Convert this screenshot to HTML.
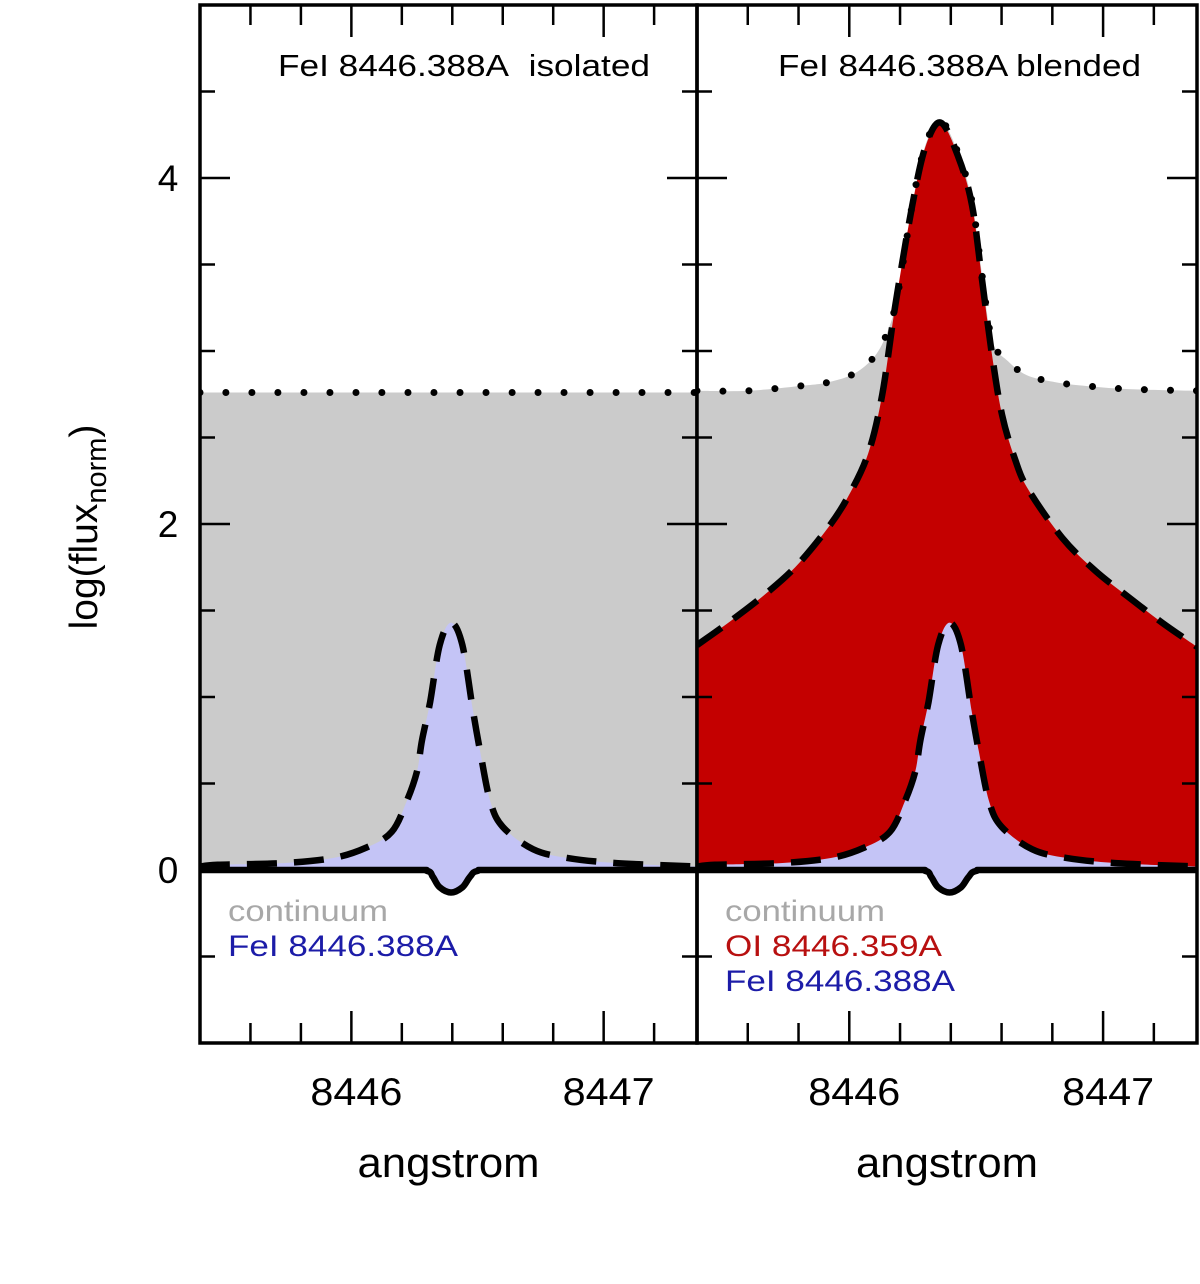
<!DOCTYPE html>
<html><head><meta charset="utf-8"><style>
html,body{margin:0;padding:0;background:#fff;}
svg text{font-family:"Liberation Sans",Arial,sans-serif;}
</style></head><body>
<svg id="chart" width="1200" height="1279" viewBox="0 0 1200 1279" xmlns="http://www.w3.org/2000/svg">
<g id="plots"></g>
<text transform="translate(97,527) rotate(-90)" text-anchor="middle" font-size="39">log(flux<tspan font-size="29" dy="9">norm</tspan><tspan dy="-9">)</tspan></text>
</svg>
<script>
// ---- data ----
const yTicksMajor = [0, 2, 4];
const yTickLabels = ["0", "2", "4"];
const yTicksMinor = [-0.5, 0.5, 1, 1.5, 2.5, 3, 3.5, 4.5];
const xTicksMajor = [8446, 8447];
const xTickLabels = ["8446", "8447"];
const xTicksMinor = [8445.6, 8445.8, 8446.2, 8446.4, 8446.6, 8446.8, 8447.2];
const continuumLevel = 2.76;
// FeI emission profile (log flux)
const feWave = [8445.40,8445.47,8445.73,8445.93,8446.06,8446.16,8446.22,8446.26,8446.28,8446.312,8446.35,8446.395,8446.44,8446.482,8446.51,8446.55,8446.60,8446.72,8446.855,8447.05,8447.37];
const feFlux = [0.02,0.03,0.04,0.07,0.13,0.22,0.40,0.57,0.75,0.97,1.30,1.43,1.30,0.92,0.69,0.40,0.25,0.12,0.07,0.04,0.02];
// absorption (solid line)
const absWave = [8445.40,8446.20,8446.30,8446.323,8446.35,8446.395,8446.44,8446.47,8446.50,8446.60,8447.37];
const absFlux = [0.0,0.0,-0.005,-0.04,-0.10,-0.13,-0.10,-0.04,-0.005,0.0,0.0];
// OI emission profile
const oiWave = [8445.40,8445.524,8445.657,8445.787,8445.917,8445.996,8446.075,8446.13,8446.181,8446.248,8446.30,8446.36,8446.43,8446.484,8446.524,8446.563,8446.602,8446.654,8446.705,8446.839,8446.969,8447.098,8447.232,8447.37];
const oiFlux = [1.30,1.43,1.58,1.75,1.98,2.16,2.41,2.75,3.26,3.84,4.18,4.32,4.12,3.84,3.40,2.97,2.63,2.37,2.20,1.92,1.73,1.58,1.43,1.29];
// blended total (dotted)
const totWave = [8445.40,8445.6,8445.82,8445.92,8446.02,8446.10,8446.15,8446.19,8446.25,8446.30,8446.36,8446.43,8446.484,8446.524,8446.563,8446.626,8446.70,8446.81,8446.92,8447.1,8447.37];
const totFlux = [2.77,2.77,2.80,2.82,2.87,2.97,3.11,3.32,3.86,4.19,4.33,4.14,3.86,3.43,3.06,2.94,2.86,2.82,2.80,2.78,2.77];

// ---- layout ----
const NS = "http://www.w3.org/2000/svg";
const yTop = 5, yBot = 1043, yMin = -1, yMax = 5;
const xMin = 8445.40, xMax = 8447.37;
const panels = [{x0:200, x1:697}, {x0:697, x1:1197}];
const plotG = document.getElementById('plots');
function el(tag, attrs, parent){const e=document.createElementNS(NS,tag);for(const k in attrs)e.setAttribute(k,attrs[k]);(parent||plotG).appendChild(e);return e;}
function yS(v){return yBot - (v - yMin)/(yMax - yMin)*(yBot-yTop);}
function xS(p,w){return p.x0 + (w - xMin)/(xMax - xMin)*(p.x1-p.x0);}
function xy(p, ws, fs){return ws.map((w,i)=>[xS(p,w), yS(fs[i])]);}
// smooth path (Catmull-Rom -> cubic Bezier), without the initial M if cont
function smooth(P, cont){
  let d = (cont ? 'L' : 'M') + P[0][0].toFixed(1)+','+P[0][1].toFixed(1);
  for (let i=0;i<P.length-1;i++){
    const p0=P[Math.max(0,i-1)], p1=P[i], p2=P[i+1], p3=P[Math.min(P.length-1,i+2)];
    const c1=[p1[0]+(p2[0]-p0[0])/6, p1[1]+(p2[1]-p0[1])/6];
    const c2=[p2[0]-(p3[0]-p1[0])/6, p2[1]-(p3[1]-p1[1])/6];
    d += ` C${c1[0].toFixed(1)},${c1[1].toFixed(1)} ${c2[0].toFixed(1)},${c2[1].toFixed(1)} ${p2[0].toFixed(1)},${p2[1].toFixed(1)}`;
  }
  return d;
}
function txt(parent, attrs, s, name){const t=el('text',attrs,parent);t.textContent=s;
  
  
  return t;}

panels.forEach((p, pi) => {
  const pg = el('g', {});
  
  
  const clip = el('clipPath', {id:'clip'+pi}, pg);
  el('rect', {x:p.x0, y:yTop, width:p.x1-p.x0, height:yBot-yTop}, clip);
  const dg = el('g', {'clip-path':'url(#clip'+pi+')'}, pg);
  const X0 = xS(p,xMin), X1 = xS(p,xMax), Y0 = yS(0);
  const totP = pi===0 ? [[X0,yS(continuumLevel)],[X1,yS(continuumLevel)]] : xy(p,totWave,totFlux);
  const cont = el('path', {d:`M${X0},${Y0}`+smooth(totP,true)+`L${X1},${Y0}Z`, fill:'#cbcbcb'}, dg);
  
  
  const oiP = xy(p,oiWave,oiFlux);
  if (pi===1) {
    const oi = el('path', {d:`M${X0},${Y0}`+smooth(oiP,true)+`L${X1},${Y0}Z`, fill:'#c40000'}, dg);
    
    
  }
  const feP = xy(p,feWave,feFlux), abP = xy(p,absWave,absFlux);
  const fe = el('path', {d:smooth(feP,false)+smooth(abP.slice().reverse(),true)+'Z', fill:'#c4c4f6'}, dg);
  
  
  const dot = el('path', {d:smooth(totP,false), fill:'none', stroke:'#000','stroke-width':7,'stroke-linecap':'round','stroke-dasharray':'0 26'}, dg);
  
  
  if (pi===1) {
    const oiL = el('path', {d:smooth(oiP,false), fill:'none', stroke:'#000','stroke-width':6.5,'stroke-dasharray':'30 15','stroke-linejoin':'round'}, dg);
    
    
  }
  const feL = el('path', {d:smooth(feP,false), fill:'none', stroke:'#000','stroke-width':6.5,'stroke-dasharray':'30 17','stroke-linejoin':'round'}, dg);
  
  
  const ab = el('path', {d:smooth(abP,false), fill:'none', stroke:'#000','stroke-width':6.5,'stroke-linejoin':'round'}, dg);
  
  
  el('rect', {x:p.x0, y:yTop, width:p.x1-p.x0, height:yBot-yTop, fill:'none', stroke:'#000','stroke-width':3.5}, pg);
  yTicksMajor.forEach(v=>{el('line',{x1:p.x0,x2:p.x0+30,y1:yS(v),y2:yS(v),stroke:'#000','stroke-width':2.5},pg);el('line',{x1:p.x1,x2:p.x1-30,y1:yS(v),y2:yS(v),stroke:'#000','stroke-width':2.5},pg);});
  yTicksMinor.forEach(v=>{el('line',{x1:p.x0,x2:p.x0+15,y1:yS(v),y2:yS(v),stroke:'#000','stroke-width':2.5},pg);el('line',{x1:p.x1,x2:p.x1-15,y1:yS(v),y2:yS(v),stroke:'#000','stroke-width':2.5},pg);});
  xTicksMajor.forEach((w,i)=>{const x=xS(p,w);el('line',{x1:x,x2:x,y1:yBot,y2:yBot-32,stroke:'#000','stroke-width':2.5},pg);el('line',{x1:x,x2:x,y1:yTop,y2:yTop+32,stroke:'#000','stroke-width':2.5},pg);
    txt(pg,{x:x+5,y:1105,'text-anchor':'middle','font-size':39,textLength:92,lengthAdjust:'spacingAndGlyphs'},xTickLabels[i],'x-tick-label');});
  xTicksMinor.forEach(w=>{const x=xS(p,w);el('line',{x1:x,x2:x,y1:yBot,y2:yBot-20,stroke:'#000','stroke-width':2.5},pg);el('line',{x1:x,x2:x,y1:yTop,y2:yTop+20,stroke:'#000','stroke-width':2.5},pg);});
  txt(pg,{x:(p.x0+p.x1)/2,y:1177,'text-anchor':'middle','font-size':42,textLength:182,lengthAdjust:'spacingAndGlyphs'},'angstrom','x-axis-title');
  if (pi===0) txt(pg,{x:278,y:76,'font-size':31,textLength:372,lengthAdjust:'spacingAndGlyphs'},'FeI 8446.388A\u00a0\u00a0isolated','panel-title');
  else txt(pg,{x:778,y:76,'font-size':31,textLength:363,lengthAdjust:'spacingAndGlyphs'},'FeI 8446.388A blended','panel-title');
  const leg = pi===0 ? [['continuum','#a8a8a8',160],['FeI 8446.388A','#1c1ca8',230]] : [['continuum','#a8a8a8',160],['OI 8446.359A','#b81010',217],['FeI 8446.388A','#1c1ca8',230]];
  leg.forEach((l,i)=>{txt(pg,{x:p.x0+28,y:921+i*35,'font-size':30,fill:l[1],textLength:l[2],lengthAdjust:'spacingAndGlyphs'},l[0],'legend-entry');});
});
yTicksMajor.forEach((v,i)=>{txt(plotG,{x:168,y:yS(v)+13,'text-anchor':'middle','font-size':37},yTickLabels[i],'y-tick-label');});
</script>
</body></html>
